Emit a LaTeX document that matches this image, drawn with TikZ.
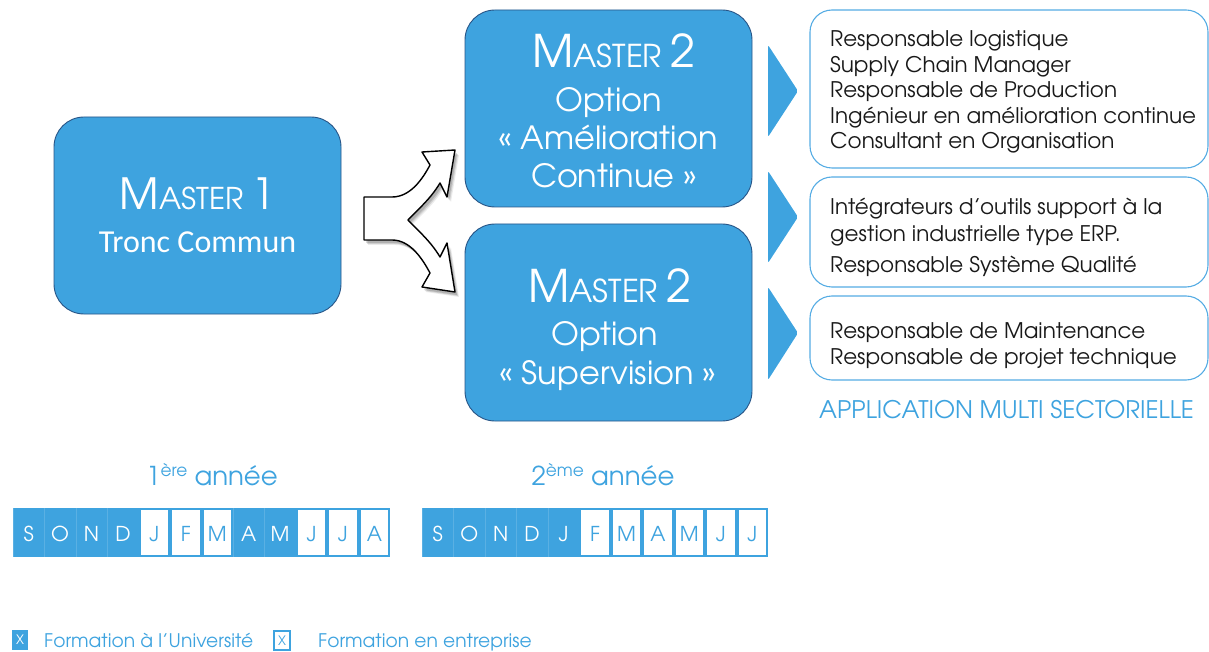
\documentclass[tikz,border=0pt]{standalone}
\usepackage{fontspec}
\setmainfont{TeX Gyre Adventor}
\newfontfamily\calib{Carlito}
\definecolor{mblue}{RGB}{62,163,223}
\definecolor{mborder}{RGB}{40,85,135}
\definecolor{lblue}{RGB}{85,172,228}
\definecolor{txt}{RGB}{25,25,25}
\newcommand{\fs}[1]{\fontsize{#1}{#1}\selectfont}
\newcommand{\MasterWord}[1]{{\fs{45}M\fs{31.5}ASTER\ \fs{45}#1}}
\tikzset{
  mbox/.style={draw=mborder, line width=0.9pt, fill=mblue, rounded corners=30pt, inner sep=0},
  rbox/.style={draw=lblue, line width=1.1pt, fill=white, rounded corners=22pt, inner sep=0},
  rtext/.style={anchor=base west, text=txt, inner sep=0, font=\fs{21.5}},
  wtext/.style={anchor=base, text=white, inner sep=0},
  otext/.style={anchor=base, text=white, inner sep=0, font=\fs{32}},
  chev/.style={fill=mblue, rounded corners=2pt},
  mletter/.style={anchor=base, inner sep=0, font=\fs{20.5}},
  legtext/.style={anchor=base west, inner sep=0, text=mblue, font=\fs{18.7}},
  yeartext/.style={anchor=base, inner sep=0, text=mblue, font=\fs{26}}
}
\begin{document}
\begin{tikzpicture}[x=1pt,y=-1pt]
\useasboundingbox (0,0) rectangle (1209,652);
% Master boxes
\draw[mbox] (54,117) rectangle (341,314);
\node[wtext] (m1a) at (197.5,210) {{\fs{43}M\fs{30}ASTER\ \fs{43}1}};
\node[wtext, font=\calib\fs{32}] (m1b) at (197.5,253) {Tronc Commun};
\draw[mbox] (465,10) rectangle (752,207);
\node[wtext] (m2a) at (614,68) {\MasterWord{2}};
\node[otext] (m2b) at (609,112) {Option};
\node[otext] (m2c) at (608,150) {« Amélioration};
\node[otext] (m2d) at (614,188) {Continue »};
\draw[mbox] (465,224) rectangle (752,421);
\node[wtext] (m3a) at (610,302) {\MasterWord{2}};
\node[otext] (m3b) at (605,345) {Option};
\node[otext] (m3c) at (608,384) {« Supervision »};
% split arrow
\foreach \o/\op in {4/0.08,3/0.12,2/0.14} {
\path[fill=black, opacity=\op] ([shift={(\o,\o+1)}]364,197) -- ++(28,0)
  .. controls +(18,0) and +(-8,15) .. ++(38,-32) -- ++(-8,-13) -- ++(33,-2) -- ++(-8,47) -- ++(-7,-14)
  .. controls +(-10,17) and +(7,-8) .. ++(-32,37)
  .. controls +(7,8) and +(-10,-17) .. ++(32,37) -- ++(7,-14) -- ++(8,49) -- ++(-33,-5) -- ++(8,-14)
  .. controls +(-8,-15) and +(18,0) .. ++(-38,-33) -- ++(-28,0) -- cycle;
}
\draw[fill=white, line width=1.4pt, line join=round] (364,197) -- (392,197)
  .. controls (410,197) and (422,180) .. (430,165) -- (422,152) -- (455,150) -- (447,197) -- (440,183)
  .. controls (430,200) and (415,212) .. (408,220)
  .. controls (415,228) and (430,240) .. (440,257) -- (447,243) -- (455,292) -- (422,287) -- (430,273)
  .. controls (422,258) and (410,240) .. (392,240) -- (364,240) -- cycle;
% chevrons
\fill[chev] (768,45) -- (798,91) -- (768,137) -- cycle;
\fill[chev] (768,171) -- (798,217) -- (768,263) -- cycle;
\fill[chev] (768,287) -- (798,333) -- (768,380) -- cycle;
% right boxes
\draw[rbox] (810,10) rectangle (1208,168);
\node[rtext] (r1) at (830,47) {Responsable logistique};
\node[rtext] (r2) at (830,72.5) {Supply Chain Manager};
\node[rtext] (r3) at (830,98) {Responsable de Production};
\node[rtext] (r4) at (830,123.5) {Ingénieur en amélioration continue};
\node[rtext] (r5) at (830,149) {Consultant en Organisation};
\draw[rbox] (810,177) rectangle (1208,287);
\node[rtext] (s1) at (830,215) {Intégrateurs d’outils support à la};
\node[rtext] (s2) at (830,241) {gestion industrielle type ERP.};
\node[rtext] (s3) at (830,272.5) {Responsable Système Qualité};
\draw[rbox] (810,296) rectangle (1208,380);
\node[rtext] (t1) at (830,338) {Responsable de Maintenance};
\node[rtext] (t2) at (830,364) {Responsable de projet technique};
\node[anchor=base west, inner sep=0, text=mblue, font=\fs{24.2}] (app) at (819,418) {APPLICATION MULTI SECTORIELLE};
% years
\node[yeartext] (y1) at (212,485) {1\raisebox{9pt}{\fs{17}ère} année};
\node[yeartext] (y2) at (603,485) {2\raisebox{9pt}{\fs{17}ème} année};
% month bars
\fill[mblue] (13,508) rectangle (390,557);
\foreach \l/\w [count=\i] in {S/0,O/0,N/0,D/0,J/1,F/1,M/1,A/0,M/0,J/1,J/1,A/1} {
  \pgfmathsetmacro\xa{13+(\i-1)*31.42}
  \pgfmathsetmacro\xc{\xa+15.71}
  \ifnum\w=1
    \fill[white] (\xa+2,510) rectangle (\xa+29.42,555);
    \node[mletter, text=mblue] (a\i) at (\xc,541) {\l};
  \else
    \draw[white, opacity=0.15, line width=0.6pt] (\xa,508) -- (\xa,557);
    \node[mletter, text=white] (a\i) at (\xc,541) {\l};
  \fi
}
\fill[mblue] (422,508) rectangle (768,557);
\foreach \l/\w [count=\i] in {S/0,O/0,N/0,D/0,J/0,F/1,M/1,A/1,M/1,J/1,J/1} {
  \pgfmathsetmacro\xa{422+(\i-1)*31.45}
  \pgfmathsetmacro\xc{\xa+15.73}
  \ifnum\w=1
    \fill[white] (\xa+2,510) rectangle (\xa+29.45,555);
    \node[mletter, text=mblue] (b\i) at (\xc,541) {\l};
  \else
    \draw[white, opacity=0.15, line width=0.6pt] (\xa,508) -- (\xa,557);
    \node[mletter, text=white] (b\i) at (\xc,541) {\l};
  \fi
}
% legend
\fill[mblue] (12,630) rectangle (28,650);
\node[anchor=center, inner sep=0, text=white, font=\fs{13}] (lx1) at (20,640) {X};
\node[legtext] (l1) at (44,647) {Formation à l’Université};
\draw[mblue, line width=1.5pt] (274,631) rectangle (290,650);
\node[anchor=center, inner sep=0, text=mblue, font=\fs{13}] (lx2) at (282,640.5) {X};
\node[legtext] (l2) at (318,647) {Formation en entreprise};
\end{tikzpicture}
\end{document}
